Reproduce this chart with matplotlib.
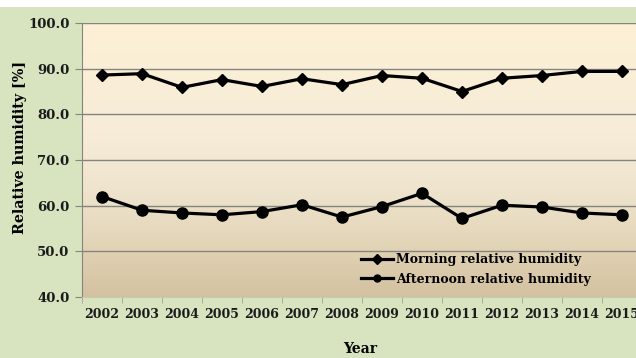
import numpy as np
import matplotlib
matplotlib.use("Agg")
import matplotlib.pyplot as plt
from matplotlib.colors import LinearSegmentedColormap
from matplotlib.patches import Rectangle

years = ["2002", "2003", "2004", "2005", "2006", "2007", "2008",
         "2009", "2010", "2011", "2012", "2013", "2014", "2015"]
morning = [88.6, 88.9, 85.9, 87.6, 86.1, 87.8, 86.5,
           88.5, 87.9, 85.0, 87.9, 88.5, 89.4, 89.4]
afternoon = [62.0, 59.0, 58.4, 58.0, 58.7, 60.2, 57.5,
             59.8, 62.7, 57.2, 60.1, 59.7, 58.4, 58.0]
yticks = [40, 50, 60, 70, 80, 90, 100]

plt.rcParams["font.family"] = "DejaVu Serif"
plt.rcParams["font.weight"] = "bold"

fig = plt.figure(figsize=(6.36, 3.58), dpi=100, facecolor="#d7e4bf")
# thin white strip across the top
fig.patches.append(Rectangle((0, 1 - 7 / 358), 1, 7 / 358, transform=fig.transFigure,
                             facecolor="white", edgecolor="none", zorder=-10))

ax = fig.add_axes([82 / 636, 1 - 297 / 358, 560 / 636, 274 / 358])
ax.set_facecolor("none")

x = np.arange(len(years))
ax.set_xlim(-0.5, len(years) - 0.5)
ax.set_ylim(40, 100)

# background gradient of the plot area
cmap = LinearSegmentedColormap.from_list(
    "bg", [(0.0, "#d3c1a0"), (0.2, "#e3d5b8"), (0.4, "#efe5cf"),
           (0.6, "#f6ecd8"), (1.0, "#fdf0d5")])
grad = np.linspace(0, 1, 256).reshape(-1, 1)
ax.imshow(grad, cmap=cmap, aspect="auto", origin="lower",
          extent=(-0.5, len(years) - 0.5, 40, 100), zorder=0)

for v in yticks[1:]:
    ax.axhline(v, color="#85857d", lw=1.0, zorder=1)

ax.plot(x, morning, color="black", lw=2.3, marker="D", ms=6.5, zorder=3,
        label="Morning relative humidity")
ax.plot(x, afternoon, color="black", lw=2.3, marker="o", ms=8, zorder=3,
        label="Afternoon relative humidity")

ax.set_yticks(yticks)
ax.set_yticklabels([f"{v:.1f}" for v in yticks])
ax.set_xticks(x)
ax.set_xticklabels(years)
ax.set_xticks(np.arange(-0.5, len(years), 1), minor=True)
ax.tick_params(axis="x", which="major", length=0, pad=8, labelsize=9)
ax.tick_params(axis="x", which="minor", length=4, color="#a0a098")
ax.tick_params(axis="y", length=5, color="#85857d", pad=4, labelsize=9.5)
for t in ax.get_xticklabels() + ax.get_yticklabels():
    t.set_fontweight("bold")
    t.set_color("#1a1a1a")

for s in ["top", "right"]:
    ax.spines[s].set_visible(False)
ax.spines["left"].set_color("#85857d")
ax.spines["bottom"].set_color("#c8c8b8")

fig.text(20 / 636, 1 - 147 / 358, "Relative humidity [%]", rotation=90,
         ha="center", va="center", fontsize=10.3, fontweight="bold")
fig.text(360 / 636, 1 - 349 / 358, "Year", ha="center", va="center",
         fontsize=10, fontweight="bold")

leg = ax.legend(loc="lower left", bbox_to_anchor=(0.478, 0.0), frameon=False,
                handlelength=2.6, handletextpad=0.2, labelspacing=0.55,
                prop={"weight": "bold", "size": 9})
for h in leg.legend_handles:
    h.set_markersize(5)

fig.savefig("out.png", dpi=100, facecolor=fig.get_facecolor())
